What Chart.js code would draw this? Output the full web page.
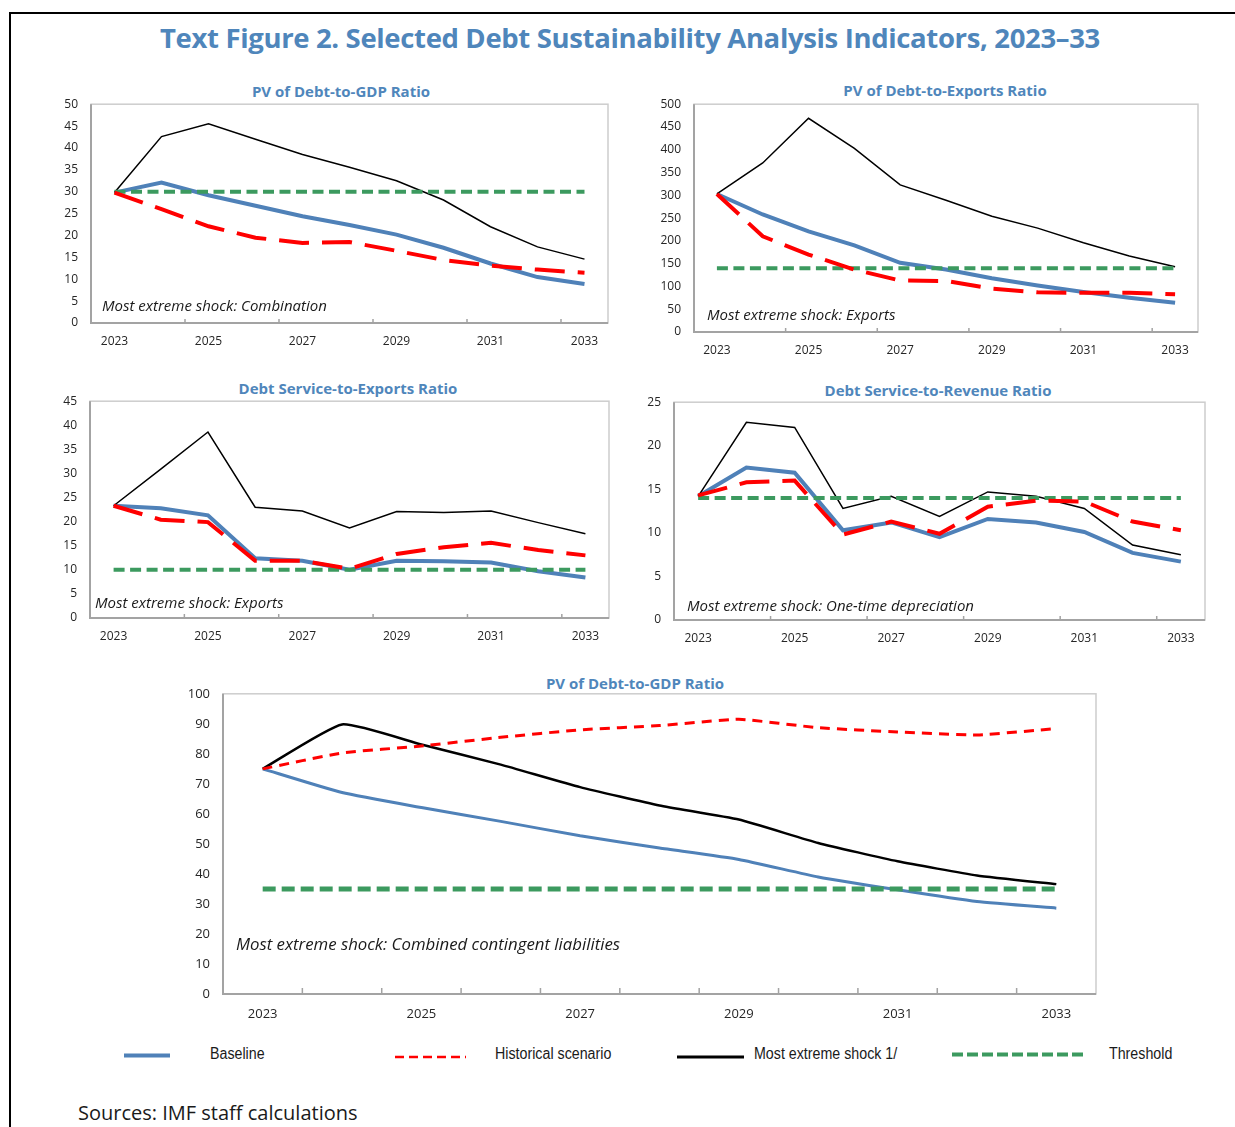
<!DOCTYPE html>
<html>
<head>
<meta charset="utf-8">
<script src="https://cdn.jsdelivr.net/npm/chart.js@4.4.1/dist/chart.umd.min.js"></script>
<style>
  html, body { margin: 0; padding: 0; background: #fff; }
  body { width: 1235px; height: 1127px; position: relative; overflow: hidden; font-family: 'Open Sans', sans-serif; }
  .frame { position: absolute; left: 9px; top: 12px; width: 1300px; height: 1200px; border-left: 2px solid #000; border-top: 2px solid #000; }
  .abs { position: absolute; white-space: nowrap; }
  .main-title { font-weight: 700; font-size: 27.5px; color: #4f86bb; transform: translate(-50%, -50%); letter-spacing: -0.35px; }
  .sub-title { font-weight: 700; font-size: 15px; color: #4f86bb; transform: translate(-50%, -50%); }
  .note { font-style: italic; font-size: 15px; color: #1a1a1a; transform: translateY(-50%); }
  .legend-text { font-family: 'Liberation Sans', sans-serif; font-size: 16px; color: #1a1a1a; transform: translateY(-50%) scaleX(0.89); transform-origin: left center; }
  .sources { font-size: 20px; color: #1a1a1a; transform: translateY(-50%); }
  .box { position: absolute; }
</style>
</head>
<body>
<div class="frame"></div>
<div class="abs main-title" style="left:630px; top:37px;">Text Figure 2. Selected Debt Sustainability Analysis Indicators, 2023–33</div>

<div class="abs sub-title" style="left:341px; top:91px;">PV of Debt-to-GDP Ratio</div>
<div class="abs sub-title" style="left:945px; top:90px;">PV of Debt-to-Exports Ratio</div>
<div class="abs sub-title" style="left:348px; top:388px;">Debt Service-to-Exports Ratio</div>
<div class="abs sub-title" style="left:938px; top:390px;">Debt Service-to-Revenue Ratio</div>
<div class="abs sub-title" style="left:635px; top:683px;">PV of Debt-to-GDP Ratio</div>

<div class="box" id="b1"><canvas id="c1"></canvas></div>
<div class="box" id="b2"><canvas id="c2"></canvas></div>
<div class="box" id="b3"><canvas id="c3"></canvas></div>
<div class="box" id="b4"><canvas id="c4"></canvas></div>
<div class="box" id="b5"><canvas id="c5"></canvas></div>

<div class="abs note" style="left:102px; top:305px;">Most extreme shock: Combination</div>
<div class="abs note" style="left:707px; top:314px;">Most extreme shock: Exports</div>
<div class="abs note" style="left:95px; top:602px;">Most extreme shock: Exports</div>
<div class="abs note" style="left:687px; top:605px;">Most extreme shock: One-time depreciation</div>
<div class="abs note" style="left:236px; top:943px; font-size:16.8px;">Most extreme shock: Combined contingent liabilities</div>

<svg class="abs" style="left:0; top:1040px;" width="1235" height="30">
  <line x1="124" y1="15.5" x2="170" y2="15.5" stroke="#4f81b8" stroke-width="4"/>
  <line x1="395" y1="17" x2="466" y2="17" stroke="#ff0000" stroke-width="2.5" stroke-dasharray="9 5"/>
  <line x1="677" y1="17" x2="744" y2="17" stroke="#000" stroke-width="3"/>
  <line x1="952" y1="14.5" x2="1085" y2="14.5" stroke="#3c9a5f" stroke-width="4" stroke-dasharray="11 4"/>
</svg>
<div class="abs legend-text" style="left:210px; top:1054px;">Baseline</div>
<div class="abs legend-text" style="left:495px; top:1054px;">Historical scenario</div>
<div class="abs legend-text" style="left:754px; top:1054px;">Most extreme shock 1/</div>
<div class="abs legend-text" style="left:1109px; top:1054px;">Threshold</div>

<div class="abs sources" style="left:78px; top:1112px;">Sources: IMF staff calculations</div>

<script>
// ---- data ----
const years = ['2023', '2024', '2025', '2026', '2027', '2028', '2029', '2030', '2031', '2032', '2033'];

// PV of debt-to-GDP (external)
const gdpBaseline   = [29.8, 32.1, 29.2, 26.8, 24.4, 22.4, 20.2, 17.2, 13.6, 10.5, 8.9];
const gdpHistorical = [29.8, 26.0, 22.1, 19.5, 18.3, 18.5, 16.5, 14.4, 13.1, 12.2, 11.5];
const gdpShock      = [29.8, 42.6, 45.5, 42.0, 38.5, 35.6, 32.5, 28.1, 22.0, 17.4, 14.6];
const gdpThreshold  = [30, 30, 30, 30, 30, 30, 30, 30, 30, 30, 30];

// PV of debt-to-exports
const pvExpBaseline   = [303, 258, 221, 190, 152, 137, 118, 102, 88, 75, 64];
const pvExpHistorical = [303, 210, 170, 137, 113, 112, 95, 87, 86, 86, 83];
const pvExpShock      = [303, 371, 469, 403, 323, 289, 254, 228, 196, 167, 143];
const pvExpThreshold  = [140, 140, 140, 140, 140, 140, 140, 140, 140, 140, 140];

// Debt service-to-exports
const dsExpBaseline   = [23.3, 22.8, 21.3, 12.4, 11.9, 10.0, 11.9, 11.8, 11.5, 9.7, 8.4];
const dsExpHistorical = [23.3, 20.4, 19.9, 11.9, 11.9, 10.2, 13.3, 14.7, 15.6, 14.1, 13.0];
const dsExpShock      = [23.3, 30.9, 38.6, 23.0, 22.2, 18.7, 22.1, 21.9, 22.2, 19.8, 17.5];
const dsExpThreshold  = [10, 10, 10, 10, 10, 10, 10, 10, 10, 10, 10];

// Debt service-to-revenue
const dsRevBaseline   = [14.2, 17.5, 16.9, 10.3, 11.2, 9.5, 11.6, 11.2, 10.1, 7.7, 6.7];
const dsRevHistorical = [14.3, 15.8, 16.0, 9.8, 11.3, 9.9, 13.0, 13.7, 13.6, 11.3, 10.3];
const dsRevShock      = [14.2, 22.7, 22.1, 12.8, 14.2, 11.9, 14.7, 14.2, 12.8, 8.6, 7.5];
const dsRevThreshold  = [14, 14, 14, 14, 14, 14, 14, 14, 14, 14, 14];

// Public PV of debt-to-GDP
const pubBaseline   = [75.0, 67.1, 62.1, 57.5, 52.7, 48.6, 44.8, 39.0, 34.7, 30.8, 28.6];
const pubHistorical = [75.0, 80.3, 82.6, 85.5, 88.0, 89.4, 91.5, 88.7, 87.3, 86.3, 88.4];
const pubShock      = [75.0, 89.8, 83.1, 76.4, 68.9, 62.8, 58.1, 50.3, 44.2, 39.5, 36.6];
const pubThreshold  = [35, 35, 35, 35, 35, 35, 35, 35, 35, 35, 35];

Chart.defaults.font.family = "'Open Sans', sans-serif";
Chart.defaults.color = '#262626';

const BLUE = '#4f81b8';
const RED = '#ff0000';
const GREEN = '#3c9a5f';

// plot frame, axis lines and inward x tick marks
const framePlugin = {
    id: 'frame',
    beforeDatasetsDraw(chart, args, opts) {
        const { ctx, chartArea: a, scales } = chart;
        ctx.save();
        ctx.strokeStyle = '#cdcdcd';
        ctx.lineWidth = 1.5;
        ctx.strokeRect(a.left, a.top, a.right - a.left, a.bottom - a.top);
        ctx.strokeStyle = '#a3a3a3';
        ctx.lineWidth = 2;
        ctx.beginPath();
        ctx.moveTo(a.left, a.top);
        ctx.lineTo(a.left, a.bottom);
        ctx.lineTo(a.right, a.bottom);
        ctx.stroke();
        const xs = scales.x;
        const step = opts.tickEvery || 2;
        ctx.lineWidth = 1.5;
        ctx.beginPath();
        for (let i = step; i < years.length; i += step) {
            const x = (xs.getPixelForValue(i - 1) + xs.getPixelForValue(i)) / 2;
            ctx.moveTo(x, a.bottom);
            ctx.lineTo(x, a.bottom - (opts.tickLen || 4));
        }
        ctx.stroke();
        ctx.restore();
    }
};

function makeChart(id, plot, series, cfg) {
    const yW = cfg.yW || 50, padTop = 10, padRight = 4, xH = cfg.xH || 30;
    const box = document.getElementById('b' + id);
    const place = (extra) => {
        box.style.left = (plot.l - yW) + 'px';
        box.style.top = (plot.t - padTop - extra) + 'px';
        box.style.width = (plot.r - plot.l + yW + padRight) + 'px';
        box.style.height = (plot.b - plot.t + padTop + xH + extra) + 'px';
    };
    place(0);

    const big = !cfg.thinStyle;
    const chart = new Chart(document.getElementById('c' + id), {
        type: 'line',
        data: {
            labels: years,
            datasets: [
                {
                    label: 'Historical scenario',
                    data: series[1],
                    borderColor: RED,
                    borderWidth: big ? 4 : 3,
                    borderDash: big ? [30, 13] : [10, 7],
                    tension: cfg.tension,
                    order: 0
                },
                {
                    label: 'Threshold',
                    data: series[3],
                    borderColor: GREEN,
                    borderWidth: big ? 4 : 5,
                    borderDash: big ? [11, 5.5] : [13, 6],
                    order: 1
                },
                {
                    label: 'Most extreme shock 1/',
                    data: series[2],
                    borderColor: '#000',
                    borderWidth: big ? 1.5 : 2.5,
                    tension: cfg.tension,
                    order: 2
                },
                {
                    label: 'Baseline',
                    data: series[0],
                    borderColor: BLUE,
                    borderWidth: big ? 4 : 3,
                    tension: cfg.tension,
                    order: 3
                }
            ]
        },
        options: {
            responsive: true,
            maintainAspectRatio: false,
            animation: false,
            events: [],
            layout: { padding: { top: padTop, right: padRight, left: 0, bottom: 0 } },
            elements: { point: { radius: 0 }, line: { borderCapStyle: 'butt', fill: false } },
            plugins: {
                legend: { display: false },
                tooltip: { enabled: false },
                frame: { tickEvery: cfg.tickEvery, tickLen: cfg.tickLen }
            },
            scales: {
                x: {
                    offset: true,
                    grid: { display: false, drawTicks: false },
                    border: { display: false },
                    ticks: {
                        autoSkip: false,
                        maxRotation: 0,
                        padding: cfg.xPad || 11,
                        font: { size: cfg.fontSize || 12 },
                        callback: (v, i) => (i % 2 === 0 ? years[i] : '')
                    },
                    afterFit: s => { s.height = xH; }
                },
                y: {
                    min: 0,
                    max: cfg.max,
                    grid: { display: false, drawTicks: false },
                    border: { display: false },
                    ticks: { stepSize: cfg.step, padding: 13, font: { size: cfg.fontSize || 12 } },
                    afterFit: s => { s.width = yW; }
                }
            }
        },
        plugins: [framePlugin]
    });

    // the layout adds its own label padding on top; grow the box so the plot lands on target
    const extra = Math.round(chart.chartArea.top - padTop);
    if (extra > 0) {
        place(extra);
        chart.resize();
    }
}

makeChart(1, { l: 91, t: 104, r: 608, b: 323 },
    [gdpBaseline, gdpHistorical, gdpShock, gdpThreshold],
    { max: 50, step: 5, tension: 0 });
makeChart(2, { l: 694, t: 104, r: 1198, b: 332 },
    [pvExpBaseline, pvExpHistorical, pvExpShock, pvExpThreshold],
    { max: 500, step: 50, tension: 0 });
makeChart(3, { l: 90, t: 401, r: 609, b: 618 },
    [dsExpBaseline, dsExpHistorical, dsExpShock, dsExpThreshold],
    { max: 45, step: 5, tension: 0 });
makeChart(4, { l: 674, t: 402, r: 1205, b: 620 },
    [dsRevBaseline, dsRevHistorical, dsRevShock, dsRevThreshold],
    { max: 25, step: 5, tension: 0 });
makeChart(5, { l: 223, t: 694, r: 1096, b: 994 },
    [pubBaseline, pubHistorical, pubShock, pubThreshold],
    { max: 100, step: 10, tension: 0.15, thinStyle: true, yW: 60, xH: 34, xPad: 12,
      fontSize: 13, tickEvery: 1, tickLen: 6 });
</script>
</body>
</html>
